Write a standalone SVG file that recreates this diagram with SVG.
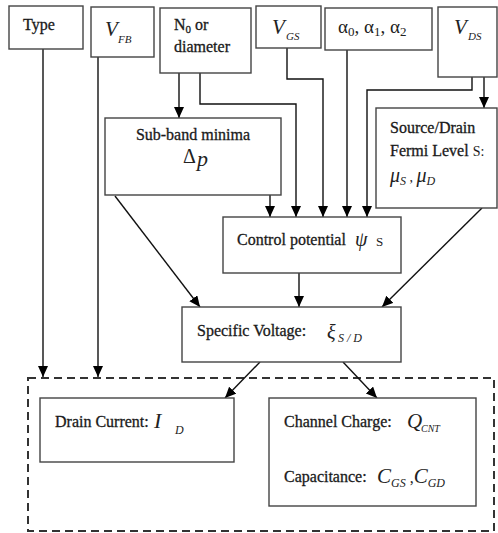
<svg xmlns="http://www.w3.org/2000/svg" width="498" height="533" viewBox="0 0 498 533">
<style>
.box{fill:#fff;stroke:#444;stroke-width:1.4}
.t{font-family:"Liberation Serif","Times New Roman",serif;font-size:16px;fill:#1a1a1a;stroke:#1a1a1a;stroke-width:0.3}
.m{font-family:"Liberation Serif","Times New Roman",serif;font-style:italic;fill:#222}
.r{font-family:"Liberation Serif","Times New Roman",serif;fill:#222}
.c{fill:none;stroke:#111;stroke-width:1.4}
.dash{fill:none;stroke:#333;stroke-width:2;stroke-dasharray:8 5}
</style>
<defs>
<marker id="ah" markerUnits="userSpaceOnUse" markerWidth="12" markerHeight="12" refX="11" refY="5" orient="auto">
<path d="M0,0 L11,5 L0,10 Z" fill="#000"/>
</marker>
</defs>
<rect class="dash" x="28" y="378" width="466" height="153"/>
<g id="connectors">
<path class="c" d="M43,49 V377" marker-end="url(#ah)"/>
<path class="c" d="M98,57 V377" marker-end="url(#ah)"/>
<path class="c" d="M179,73 V118" marker-end="url(#ah)"/>
<path class="c" d="M200,73 V104 H296 V217" marker-end="url(#ah)"/>
<path class="c" d="M287,48 V79 H323 V217" marker-end="url(#ah)"/>
<path class="c" d="M347,50 V217" marker-end="url(#ah)"/>
<path class="c" d="M472,77 V90 H367 V217" marker-end="url(#ah)"/>
<path class="c" d="M484,77 V108" marker-end="url(#ah)"/>
<path class="c" d="M270,195 V217" marker-end="url(#ah)"/>
<path class="c" d="M115,196 L200,307" marker-end="url(#ah)"/>
<path class="c" d="M482,208 L382,307" marker-end="url(#ah)"/>
<path class="c" d="M299,273 V307" marker-end="url(#ah)"/>
<path class="c" d="M260,362 L225,398" marker-end="url(#ah)"/>
<path class="c" d="M343,362 L377,398" marker-end="url(#ah)"/>
</g>
<g id="type">
<rect class="box" x="9" y="6" width="74" height="43"/>
<text class="t" x="23" y="30">Type</text>
</g>
<g id="vfb">
<rect class="box" x="91" y="7" width="63" height="50"/>
<text class="m" x="105" y="36" font-size="21">V</text>
<text class="m" x="118" y="43" font-size="11">FB</text>
</g>
<g id="n0">
<rect class="box" x="160" y="8" width="91" height="65"/>
<text class="t" x="174" y="30">N<tspan font-size="11" dy="3">0</tspan><tspan dy="-3"> or</tspan></text>
<text class="t" x="174" y="52">diameter</text>
</g>
<g id="vgs">
<rect class="box" x="256" y="6" width="65" height="42"/>
<text class="m" x="272" y="34" font-size="21">V</text>
<text class="m" x="286" y="40" font-size="11">GS</text>
</g>
<g id="alpha">
<rect class="box" x="325" y="8" width="107" height="42"/>
<text class="r" x="338" y="33" font-size="19">α<tspan font-size="13" dy="3">0</tspan><tspan dy="-3">, α</tspan><tspan font-size="13" dy="3">1</tspan><tspan dy="-3">, α</tspan><tspan font-size="13" dy="3">2</tspan></text>
</g>
<g id="vds">
<rect class="box" x="438" y="7" width="59" height="70"/>
<text class="m" x="454" y="34" font-size="21">V</text>
<text class="m" x="468" y="40" font-size="11">DS</text>
</g>
<g id="subband">
<rect class="box" x="105" y="118" width="176" height="77"/>
<text class="t" x="193" y="140" text-anchor="middle">Sub-band minima</text>
<text class="r" x="183" y="163" font-size="20">Δ</text>
<text class="m" x="197" y="166" font-size="22">p</text>
</g>
<g id="sourcedrain">
<rect class="box" x="376" y="108" width="121" height="100"/>
<text class="t" x="390" y="133">Source/Drain</text>
<text class="t" x="390" y="156">Fermi Level <tspan stroke-width="0" font-size="14">S:</tspan></text>
<text class="m" x="390" y="182" font-size="20">μ<tspan font-size="12" dy="3">S</tspan><tspan dy="-3" font-style="normal" font-size="14"> , </tspan>μ<tspan font-size="12" dy="3">D</tspan></text>
</g>
<g id="control">
<rect class="box" x="223" y="217" width="178" height="56"/>
<text class="t" x="237" y="245">Control potential</text>
<text class="m" x="355" y="246" font-size="20">ψ</text>
<text class="r" x="376" y="246" font-size="13">S</text>
</g>
<g id="specific">
<rect class="box" x="182" y="307" width="219" height="55"/>
<text class="t" x="197" y="336">Specific Voltage:</text>
<text class="m" x="327" y="339" font-size="20">ξ</text>
<text class="m" x="338" y="342" font-size="12">S / D</text>
</g>
<g id="drain">
<rect class="box" x="40" y="398" width="194" height="64"/>
<text class="t" x="55" y="427">Drain Current:</text>
<text class="m" x="154" y="428" font-size="22">I</text>
<text class="m" x="175" y="434" font-size="12">D</text>
</g>
<g id="channel">
<rect class="box" x="269" y="398" width="207" height="108"/>
<text class="t" x="284" y="427">Channel Charge:</text>
<text class="m" x="407" y="428" font-size="21">Q</text>
<text class="m" x="421" y="432" font-size="10">CNT</text>
<text class="t" x="284" y="482">Capacitance:</text>
<text class="m" x="377" y="483" font-size="21">C<tspan font-size="12" dy="4">GS</tspan><tspan dy="-4" font-style="normal" font-size="16"> ,</tspan>C<tspan font-size="12" dy="4">GD</tspan></text>
</g>
</svg>
